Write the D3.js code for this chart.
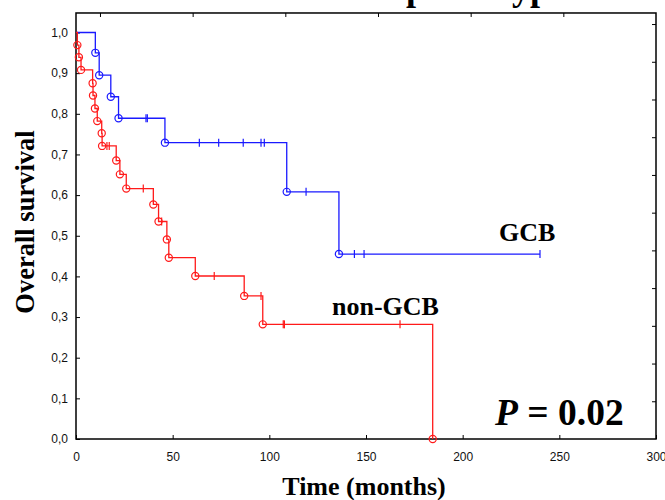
<!DOCTYPE html>
<html>
<head>
<meta charset="utf-8">
<script src="https://cdn.jsdelivr.net/npm/d3@7"></script>
<style>
  html, body { margin: 0; padding: 0; background: #fff; }
  svg { display: block; }
</style>
</head>
<body>
<svg id="chart" width="665" height="500"></svg>
<script>
// ---- Data ----
const xTicks = [0, 50, 100, 150, 200, 250, 300];
const xTickLabels = ["0", "50", "100", "150", "200", "250", "300"];
const yTicks = [0, 0.1, 0.2, 0.3, 0.4, 0.5, 0.6, 0.7, 0.8, 0.9, 1.0];
const yTickLabels = ["0,0", "0,1", "0,2", "0,3", "0,4", "0,5", "0,6", "0,7", "0,8", "0,9", "1,0"];

// GCB: event times (months) and survival after each event
const gcbTimes = [0, 10, 12, 18, 22, 46, 109, 136];
const gcbSurv  = [1.0, 0.950, 0.895, 0.842, 0.789, 0.729, 0.608, 0.455];
const gcbCensored = [36.2, 36.9, 63.8, 73.8, 86.5, 95.7, 97.4, 119, 144, 149, 240];

// non-GCB
const ngcbTimes = [0, 0.7, 1.5, 2.6, 8.6, 8.8, 9.8, 11, 13.3, 13.5, 20.8, 22.7, 26, 40, 42.7, 47, 48, 61.7, 87, 96.6, 184.5];
const ngcbSurv  = [1.0, 0.969, 0.939, 0.908, 0.875, 0.845, 0.813, 0.782, 0.752, 0.721, 0.685, 0.651, 0.616, 0.577, 0.535, 0.491, 0.446, 0.401, 0.352, 0.282, 0.0];
const ngcbCensored = [16.0, 17.2, 34.8, 44.3, 71.5, 95.7, 107.2, 107.8, 167.6];

const seriesNames = ["GCB", "non-GCB"];
const seriesColors = ["#1a1aff", "#ff1a1a"];
const pText = "0.02";

// ---- Layout ----
const svg = d3.select("#chart");
const x = d3.scaleLinear().domain([0, 300]).range([76, 656]);
const y = d3.scaleLinear().domain([0, 1]).range([439, 32.5]);
const yTop = 1.048;
const xTop = d3.scaleLinear().domain([0, 300]).range([x(12.4), x(300)]);
const yRight = d3.scaleLinear().domain([0, 1]).range([y(0), y(0.928)]);

const tickFont = "'Liberation Sans', Arial, sans-serif";
const serif = "'Liberation Serif', 'Times New Roman', serif";

// Title (only descenders visible at top edge)
svg.append("text")
  .attr("x", 406).attr("y", 0)
  .attr("font-family", serif).attr("font-weight", "bold").attr("font-size", 36)
  .text("phenotype");

// Frame
svg.append("rect")
  .attr("x", x(0)).attr("y", y(yTop))
  .attr("width", x(300) - x(0)).attr("height", y(0) - y(yTop))
  .attr("fill", "none").attr("stroke", "#000").attr("stroke-width", 1.5);

// Bottom axis
const gx = svg.append("g").attr("transform", `translate(0,${y(0)})`)
  .call(d3.axisBottom(x).tickValues(xTicks).tickSizeInner(-4).tickSizeOuter(0)
    .tickPadding(13).tickFormat((d, i) => xTickLabels[i]));
gx.select(".domain").remove();
gx.selectAll("text").attr("font-family", tickFont).attr("font-size", 12).attr("fill", "#111");
gx.selectAll("line").attr("stroke", "#000");

// Left axis
const gy = svg.append("g").attr("transform", `translate(${x(0)},0)`)
  .call(d3.axisLeft(y).tickValues(yTicks).tickSizeInner(-4).tickSizeOuter(0)
    .tickPadding(8).tickFormat((d, i) => yTickLabels[i]));
gy.select(".domain").remove();
gy.selectAll("text").attr("font-family", tickFont).attr("font-size", 12).attr("fill", "#111");
gy.selectAll("line").attr("stroke", "#000");

// Top mirror ticks
const gt = svg.append("g").attr("transform", `translate(0,${y(yTop)})`)
  .call(d3.axisTop(xTop).tickValues(xTicks.slice(0, 6)).tickSizeInner(-4).tickSizeOuter(0).tickFormat(""));
gt.select(".domain").remove();
gt.selectAll("line").attr("stroke", "#000");

// Right mirror ticks
const gr = svg.append("g").attr("transform", `translate(${x(300)},0)`)
  .call(d3.axisRight(yRight).tickValues(yTicks.slice(1).concat([1.1])).tickSizeInner(-4).tickSizeOuter(0).tickFormat(""));
gr.select(".domain").remove();
gr.selectAll("line").attr("stroke", "#000");

// ---- Curves ----
function survAt(times, surv, t) {
  let s = surv[0];
  for (let i = 0; i < times.length; i++) if (times[i] <= t) s = surv[i];
  return s;
}

function drawSeries(times, surv, censored, color) {
  const g = svg.append("g");
  const lastT = Math.max(times[times.length - 1], d3.max(censored));
  const pts = times.map((t, i) => [t, surv[i]]);
  if (lastT > times[times.length - 1]) pts.push([lastT, surv[surv.length - 1]]);
  const line = d3.line().x(d => x(d[0])).y(d => y(d[1])).curve(d3.curveStepAfter);
  g.append("path").attr("d", line(pts))
    .attr("fill", "none").attr("stroke", color).attr("stroke-width", 1.3);
  // event circles
  g.selectAll("circle").data(pts.slice(1, times.length)).join("circle")
    .attr("cx", d => x(d[0])).attr("cy", d => y(d[1])).attr("r", 3.6)
    .attr("fill", "none").attr("stroke", color).attr("stroke-width", 1.2);
  // censor ticks
  g.selectAll("line.c").data(censored).join("line").attr("class", "c")
    .attr("x1", d => x(d)).attr("x2", d => x(d))
    .attr("y1", d => y(survAt(times, surv, d)) - 4)
    .attr("y2", d => y(survAt(times, surv, d)) + 4)
    .attr("stroke", color).attr("stroke-width", 1.2);
}

drawSeries(gcbTimes, gcbSurv, gcbCensored, seriesColors[0]);
drawSeries(ngcbTimes, ngcbSurv, ngcbCensored, seriesColors[1]);

// Labels
svg.append("text").attr("x", 499).attr("y", 241)
  .attr("font-family", serif).attr("font-weight", "bold").attr("font-size", 26)
  .text(seriesNames[0]);
svg.append("text").attr("x", 332).attr("y", 315)
  .attr("font-family", serif).attr("font-weight", "bold").attr("font-size", 26)
  .text(seriesNames[1]);

const pt = svg.append("text").attr("x", 495).attr("y", 425)
  .attr("font-family", serif).attr("font-weight", "bold").attr("font-size", 37.5);
pt.append("tspan").attr("font-style", "italic").text("P");
pt.append("tspan").text(" = " + pText);

// Axis titles
svg.append("text").attr("x", (x(0) + x(300)) / 2 - 2).attr("y", 495)
  .attr("text-anchor", "middle")
  .attr("font-family", serif).attr("font-weight", "bold").attr("font-size", 26)
  .text("Time (months)");
svg.append("text")
  .attr("transform", `translate(33.5,${222}) rotate(-90)`)
  .attr("text-anchor", "middle")
  .attr("font-family", serif).attr("font-weight", "bold").attr("font-size", 26.5)
  .text("Overall survival");
</script>
</body>
</html>
